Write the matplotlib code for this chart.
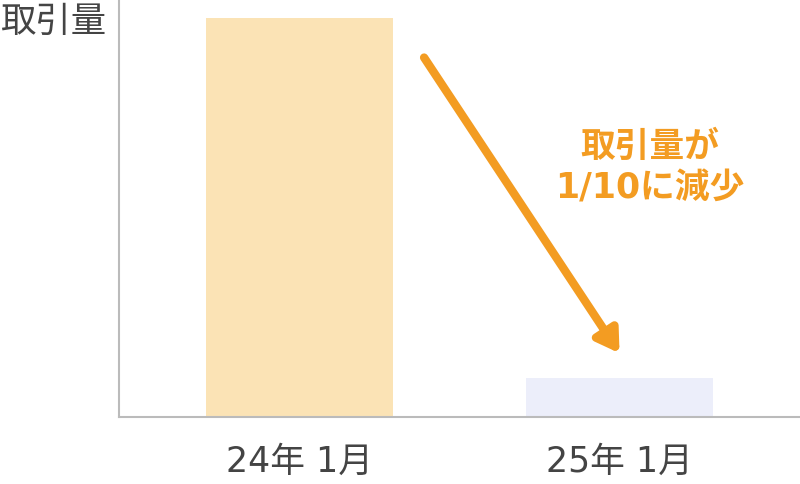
import matplotlib
matplotlib.use("Agg")
import matplotlib.pyplot as plt

plt.rcParams['font.family'] = ['DejaVu Sans', 'Noto Sans CJK JP']

categories = ["24年 1月", "25年 1月"]
values = [100, 9.8]
bar_colors = ["#FBE3B5", "#ECEEFA"]
ylabel = "取引量"
note = "取引量が\n1/10に減少"

fig = plt.figure(figsize=(8, 4.84), dpi=100)
ax = fig.add_axes([119/800, 1 - 417/484, 681/800, 417/484])
x = list(range(len(categories)))
ax.bar(x, values, width=0.584, color=bar_colors)
ax.set_xlim(-0.564, 1.564)
ax.set_ylim(0, values[0] * 417 / 399)
ax.set_xticks(x)
ax.set_xticklabels(categories, fontsize=25, color="#444444")
ax.tick_params(axis='x', length=0, pad=20)
ax.set_yticks([])
for s in ["top", "right"]:
    ax.spines[s].set_visible(False)
for s in ["left", "bottom"]:
    ax.spines[s].set_color("#BBBBBB")
    ax.spines[s].set_linewidth(1.5)

fig.text(0.0, 1 - 22/484, ylabel, fontsize=25.5, color="#444444", ha="left", va="center",
         family=['Noto Sans CJK JP', 'DejaVu Sans'])

orange = "#F39C22"
ax.annotate("", xy=(0.735, 0.153), xytext=(0.448, 0.862), xycoords="axes fraction",
            arrowprops=dict(arrowstyle="-|>,head_length=1.3,head_width=0.8", color=orange,
                            lw=6, capstyle="round", shrinkA=0, shrinkB=0))
ax.text(0.779, 0.598, note, transform=ax.transAxes, fontsize=25, fontweight="bold",
        color=orange, ha="center", va="center", linespacing=1.3)

fig.savefig("out.png", dpi=100)
